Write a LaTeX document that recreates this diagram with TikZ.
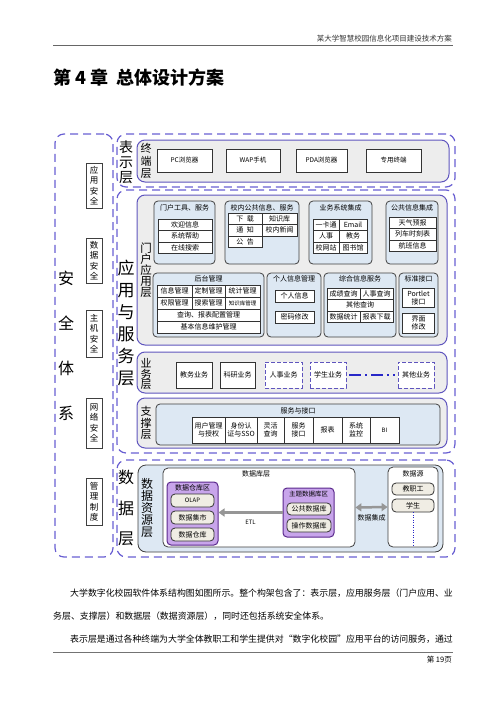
\documentclass[tikz,border=0pt]{standalone}
\usepackage{fontspec}
\setmainfont{Noto Sans CJK SC}
\usepackage{xcolor}
\usepackage{tikz}
\usetikzlibrary{positioning,arrows.meta}

\definecolor{dashblue}{RGB}{105,95,210}
\definecolor{layerblue}{RGB}{95,85,190}
\definecolor{groupfill}{RGB}{221,232,243}
\definecolor{zonefill}{RGB}{200,165,235}
\definecolor{zoneborder}{RGB}{90,40,140}
\definecolor{pillfill}{RGB}{240,237,228}
\definecolor{linkgray}{RGB}{150,150,150}
\definecolor{linkblue}{RGB}{40,40,200}

\begin{document}
\begin{tikzpicture}[x=1pt,y=-1pt]
        % Define styles
        \tikzset{
            wh/.style 2 args={minimum width=#1pt, minimum height=#2pt},
            dash_frame/.style={rectangle, draw=dashblue, line width=1.2pt, dash pattern=on 8pt off 5pt, rounded corners=9pt, inner sep=0pt},
            layer_box/.style={rectangle, draw=layerblue, line width=1pt, fill=gray!14, rounded corners=8pt, inner sep=0pt},
            group_box/.style={rectangle, draw=black!75, line width=0.8pt, fill=groupfill, rounded corners=4pt, inner sep=0pt},
            white_box/.style={rectangle, draw=black!75, line width=0.8pt, fill=white, rounded corners=5pt, inner sep=0pt},
            cell_box/.style={rectangle, draw=black!80, line width=0.6pt, fill=white, inner sep=0pt, align=center, font=\fontsize{7}{8}\selectfont},
            dash_cell/.style={cell_box, draw=layerblue, line width=0.8pt, dash pattern=on 4pt off 2pt},
            safe_box/.style={rectangle, draw=black!75, line width=0.8pt, fill=white, inner sep=0pt, align=center, font=\fontsize{8.5}{10.5}\selectfont},
            zone_box/.style={rectangle, draw=zoneborder, line width=1pt, fill=zonefill, rounded corners=4pt, inner sep=0pt},
            pill_box/.style={rectangle, draw=black!80, line width=0.8pt, fill=pillfill, rounded corners=4pt, inner sep=0pt, font=\fontsize{7}{8}\selectfont},
            title_text/.style={inner sep=0pt, font=\fontsize{7}{8}\selectfont},
            side_label/.style 2 args={align=center, inner sep=0pt, font=\fontsize{#1}{#2}\selectfont},
            body_text/.style={anchor=west, inner sep=0pt, font=\fontsize{8.9}{10}\selectfont},
            big_arrow/.style={draw=linkgray, line width=2.5pt, -{Triangle[length=6pt,width=8pt]}},
            both_arrow/.style={draw=linkgray, line width=2.5pt, {Triangle[length=6pt,width=8pt]}-{Triangle[length=6pt,width=8pt]}},
            dash_dot_link/.style={draw=linkblue, line width=1.5pt, dash pattern=on 12pt off 4pt on 2pt off 4pt, shorten <=3pt, shorten >=3pt},
            dotted_link/.style={draw=linkblue, line width=1pt, dash pattern=on 1pt off 1.5pt}
        }
        \useasboundingbox (0,0) rectangle (500,707);

        % Page header
        \node[anchor=south east, inner sep=1pt, text=black!80, font=\fontsize{7.5}{8}\selectfont] (page_header) at (453,43) {某大学智慧校园信息化项目建设技术方案};
        \coordinate (rule_left) at (53,45.5);
        \coordinate (rule_right) at (453,45.5);
        \draw[black!60, line width=1.3pt] (rule_left) -- (rule_right);
        \node[anchor=west, inner sep=0pt, font=\bfseries\fontsize{18}{20}\selectfont] (chapter_title) at (53,78) {第 4 章\hspace{8pt}总体设计方案};

        % Security system
        \node[dash_frame, wh={58}{423}] (safety_frame) at (84,345.5) {};
        \node[side_label={16}{45}] (safety_title) at (66,345.5) {安\\全\\体\\系};
        \node[safe_box, wh={16}{45}] (app_safe) at (94,185.5) {应\\用\\安\\全};
        \node[safe_box, wh={16}{45}] (data_safe) at (94,260.5) {数\\据\\安\\全};
        \node[safe_box, wh={16}{47}] (host_safe) at (94,333.5) {主\\机\\安\\全};
        \node[safe_box, wh={16}{50}] (net_safe) at (94,423) {网\\络\\安\\全};
        \node[safe_box, wh={16}{47}] (mgmt_safe) at (94,501.5) {管\\理\\制\\度};

        % Presentation layer
        \node[dash_frame, wh={338}{53}] (show_frame) at (286,160.5) {};
        \node[side_label={14}{15}] (show_title) at (126,162) {表\\示\\层};
        \node[layer_box, wh={312}{42}] (term_layer) at (293,161) {};
        \node[side_label={11}{12.5}] (term_title) at (146,161) {终\\端\\层};
        \node[cell_box, wh={55}{23}, font=\fontsize{6.5}{7}\selectfont] (pc_browser) at (184.5,160.5) {PC浏览器};
        \node[cell_box, wh={54}{23}, font=\fontsize{6.5}{7}\selectfont] (wap_phone) at (253,160.5) {WAP手机};
        \node[cell_box, wh={51}{23}, font=\fontsize{6.5}{7}\selectfont] (pda_browser) at (321.5,160.5) {PDA浏览器};
        \node[cell_box, wh={55}{23}, font=\fontsize{6.5}{7}\selectfont] (special_term) at (393.5,160.5) {专用终端};

        % Application and service layer
        \node[dash_frame, wh={338}{263}] (app_frame) at (286,321.5) {};
        \node[side_label={17}{22}] (app_title) at (126,323) {应\\用\\与\\服\\务\\层};
        \node[layer_box, wh={310}{150}] (portal_layer) at (292,270) {};
        \node[side_label={11.5}{11}] (portal_title) at (146,270) {门\\户\\应\\用\\层};

        % portal: first row
        \node[group_box, wh={61}{63}] (tools_group) at (184.5,232.5) {};
        \node[title_text] (tools_title) at (184.5,207.5) {门户工具、服务};
        \node[cell_box, wh={54}{11.5}] (welcome) at (185,224.75) {欢迎信息};
        \node[cell_box, wh={54}{11.5}] (help) at (185,236.25) {系统帮助};
        \node[cell_box, wh={54}{11.5}] (search) at (185,247.75) {在线搜索};

        \node[group_box, wh={74}{63}] (campus_group) at (262,232.5) {};
        \node[title_text] (campus_title) at (262,207.5) {校内公共信息、服务};
        \node[cell_box, wh={34}{11.5}] (download) at (245,218.75) {下\enspace 载};
        \node[cell_box, wh={35}{11.5}] (knowledge) at (279.5,218.75) {知识库};
        \node[cell_box, wh={34}{11.5}] (notice) at (245,230.25) {通\enspace 知};
        \node[cell_box, wh={35}{11.5}] (news) at (279.5,230.25) {校内新闻};
        \node[cell_box, wh={34}{11.5}] (bulletin) at (245,241.75) {公\enspace 告};

        \node[group_box, wh={63}{63}] (biz_group) at (340.5,232.5) {};
        \node[title_text] (biz_title) at (340.5,207.5) {业务系统集成};
        \node[cell_box, wh={26}{11.5}] (card) at (326,224.75) {一卡通};
        \node[cell_box, wh={28}{11.5}] (email) at (353,224.75) {Email};
        \node[cell_box, wh={26}{11.5}] (hr_sys) at (326,236.25) {人事};
        \node[cell_box, wh={28}{11.5}] (edu_sys) at (353,236.25) {教务};
        \node[cell_box, wh={26}{11.5}] (website) at (326,247.75) {校网站};
        \node[cell_box, wh={28}{11.5}] (library) at (353,247.75) {图书馆};

        \node[group_box, wh={52}{63}] (pub_group) at (412,232.5) {};
        \node[title_text] (pub_title) at (412,207.5) {公共信息集成};
        \node[cell_box, wh={47}{11.5}] (weather) at (412.5,222.75) {天气预报};
        \node[cell_box, wh={47}{11.5}] (train) at (412.5,234.25) {列车时刻表};
        \node[cell_box, wh={47}{11.5}] (flight) at (412.5,245.75) {航班信息};

        % portal: second row
        \node[group_box, wh={111}{64}] (back_group) at (208.5,305) {};
        \node[title_text] (back_title) at (208.5,279) {后台管理};
        \node[cell_box, wh={35}{12}] (info_mgmt) at (174.5,291) {信息管理};
        \node[cell_box, wh={33}{12}] (custom_mgmt) at (208.5,291) {定制管理};
        \node[cell_box, wh={35}{12}] (stat_mgmt) at (242.5,291) {统计管理};
        \node[cell_box, wh={35}{12}] (auth_mgmt) at (174.5,303) {权限管理};
        \node[cell_box, wh={33}{12}] (search_mgmt) at (208.5,303) {搜索管理};
        \node[cell_box, wh={35}{12}, font=\fontsize{5.5}{6}\selectfont] (kb_mgmt) at (242.5,303) {知识库管理};
        \node[cell_box, wh={103}{12}] (report_cfg) at (208.5,315) {查询、报表配置管理};
        \node[cell_box, wh={103}{12}] (base_info) at (208.5,327) {基本信息维护管理};

        \node[group_box, wh={54}{64}] (person_group) at (294,305) {};
        \node[title_text] (person_title) at (294,279) {个人信息管理};
        \node[cell_box, wh={39}{12}] (person_info) at (294.5,296) {个人信息};
        \node[cell_box, wh={39}{12}] (pwd_change) at (294.5,317) {密码修改};

        \node[group_box, wh={72}{64}] (service_group) at (360,305) {};
        \node[title_text] (service_title) at (360,279) {综合信息服务};
        \node[cell_box, wh={33}{11.5}] (score_query) at (343.5,293.75) {成绩查询};
        \node[cell_box, wh={33}{11.5}] (hr_query) at (376.5,293.75) {人事查询};
        \node[cell_box, wh={66}{11.5}] (other_query) at (360,305.25) {其他查询};
        \node[cell_box, wh={33}{11.5}] (data_stat) at (343.5,316.75) {数据统计};
        \node[cell_box, wh={33}{11.5}] (report_dl) at (376.5,316.75) {报表下载};

        \node[group_box, wh={39}{64}] (std_group) at (418.5,305) {};
        \node[title_text] (std_title) at (418.5,279) {标准接口};
        \node[cell_box, wh={32}{19}] (portlet) at (418.5,297.5) {Portlet\\接口};
        \node[cell_box, wh={32}{20}] (ui_edit) at (418.5,323) {界面\\修改};

        % Business layer
        \node[layer_box, wh={310}{41}] (biz_layer) at (292,372.5) {};
        \node[side_label={11}{10.5}] (biz_layer_title) at (146,374) {业\\务\\层};
        \node[cell_box, wh={36}{26}] (edu_biz) at (194,375) {教务业务};
        \node[cell_box, wh={35}{26}] (sci_biz) at (237.5,375) {科研业务};
        \node[dash_cell, wh={37}{26}] (hr_biz) at (283.5,375) {人事业务};
        \node[dash_cell, wh={36}{26}] (stu_biz) at (328,375) {学生业务};
        \node[dash_cell, wh={36}{26}] (other_biz) at (416,375) {其他业务};
        \draw[dash_dot_link] (stu_biz) -- (other_biz);

        % Support layer
        \node[layer_box, wh={310}{50}] (support_layer) at (292,423) {};
        \node[side_label={11}{11.5}] (support_title) at (146,423) {支\\撑\\层};
        \node[group_box, wh={284}{41}] (iface_group) at (298,424.5) {};
        \node[title_text] (iface_title) at (298,410.5) {服务与接口};
        \node[cell_box, wh={33}{26}] (user_auth) at (208.5,430) {用户管理\\与授权};
        \node[cell_box, wh={32}{26}] (sso) at (241,430) {身份认\\证与SSO};
        \node[cell_box, wh={27}{26}] (flex_query) at (270.5,430) {灵活\\查询};
        \node[cell_box, wh={29}{26}] (svc_iface) at (298.5,430) {服务\\接口};
        \node[cell_box, wh={29}{26}] (report) at (327.5,430) {报表};
        \node[cell_box, wh={28}{26}] (monitor) at (356,430) {系统\\监控};
        \node[cell_box, wh={29}{26}, font=\fontsize{6}{7}\selectfont] (bi) at (384.5,430) {BI};

        % Data layer
        \node[dash_frame, wh={338}{97}] (data_frame) at (286,508.5) {};
        \node[side_label={16}{30.5}] (data_title) at (126,508) {数\\据\\层};
        \node[group_box, wh={305}{87}, rounded corners=8pt] (res_layer) at (290.5,508.5) {};
        \node[side_label={12}{12}] (res_title) at (147,508) {数\\据\\资\\源\\层};

        \node[white_box, wh={192}{79}] (db_layer) at (259,507.5) {};
        \node[title_text] (db_title) at (256,474) {数据库层};
        \node[zone_box, wh={51}{63}] (wh_zone) at (192.5,513.5) {};
        \node[title_text] (wh_title) at (192.5,488) {数据仓库区};
        \node[pill_box, wh={43}{13}, font=\fontsize{6}{7}\selectfont] (olap) at (192.5,500.5) {OLAP};
        \node[pill_box, wh={43}{13}] (mart) at (192.5,517.5) {数据集市};
        \node[pill_box, wh={43}{13}] (warehouse) at (192.5,534.5) {数据仓库};

        \node[zone_box, wh={51}{49}] (topic_zone) at (308.5,512.5) {};
        \node[title_text, font=\fontsize{6.5}{7}\selectfont] (topic_title) at (308.5,494.5) {主题数据库区};
        \node[pill_box, wh={44}{12}] (pub_db) at (309,509) {公共数据库};
        \node[pill_box, wh={44}{13}] (ops_db) at (309,525.5) {操作数据库};

        \node[white_box, wh={50}{80}] (src_box) at (413,507) {};
        \node[title_text] (src_title) at (413,474) {数据源};
        \node[pill_box, wh={42}{12}] (staff) at (413,489) {教职工};
        \node[pill_box, wh={42}{13}] (student) at (413,505.5) {学生};

        % Arrows
        \draw[big_arrow] (topic_zone.west) -- (topic_zone.west -| wh_zone.east) node[midway, below=6pt, title_text, font=\fontsize{6}{7}\selectfont] (etl_label) {ETL};
        \draw[both_arrow] (db_layer.east) -- (src_box.west) node[midway, below=6pt, title_text] (sync_label) {数据集成};
        \draw[dotted_link] (student.south) -- (student.south |- src_box.south);

        % Body text
        \node[body_text] (para_1) at (70,593) {大学数字化校园软件体系结构图如图所示。整个构架包含了：表示层，应用服务层（门户应用、业};
        \node[body_text] (para_2) at (53,616) {务层、支撑层）和数据层（数据资源层），同时还包括系统安全体系。};
        \node[body_text] (para_3) at (70,639) {表示层是通过各种终端为大学全体教职工和学生提供对“数字化校园”应用平台的访问服务，通过};

        % Footer
        \coordinate (foot_left) at (53,652);
        \coordinate (foot_right) at (453,652);
        \draw[black!55, line width=0.6pt] (foot_left) -- (foot_right);
        \node[anchor=north east, inner sep=1pt, font=\fontsize{7.5}{8}\selectfont] (page_num) at (453,655) {第 19页};
    \end{tikzpicture}
\end{document}
